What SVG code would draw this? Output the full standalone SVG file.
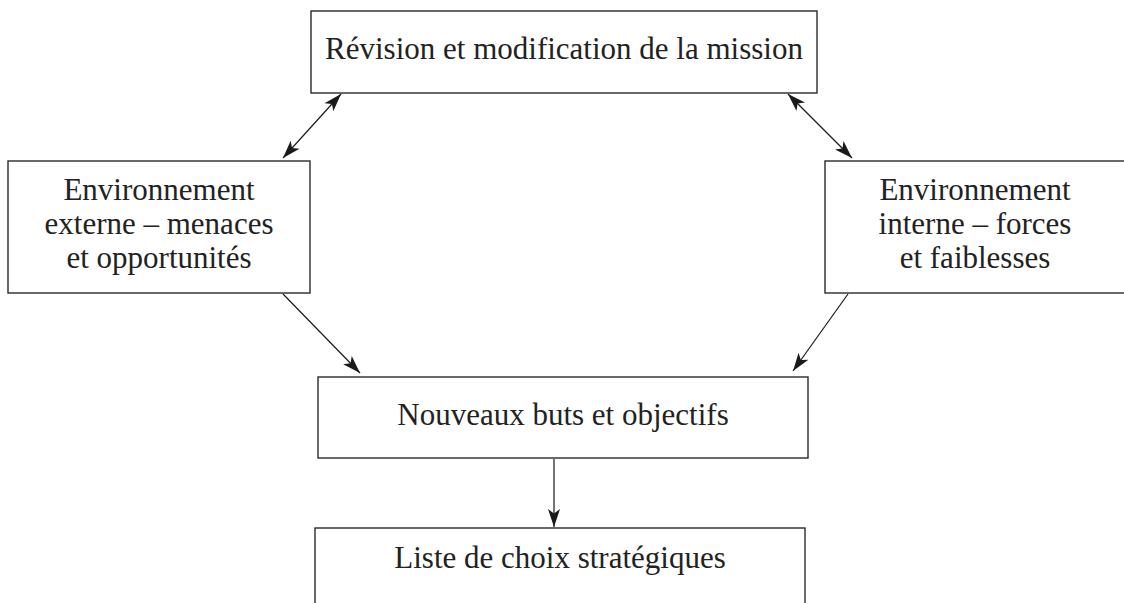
<svg xmlns="http://www.w3.org/2000/svg" width="1124" height="603" viewBox="0 0 1124 603">
<style>
.box{fill:#fff;stroke:#2a2a2a;stroke-width:1.4}
.t{font-family:"Liberation Serif","Times New Roman",serif;font-size:31px;fill:#222;text-anchor:middle}
.c{stroke:#1a1a1a;stroke-width:1.2;fill:none}
</style>
<defs>
<marker id="ah" markerUnits="userSpaceOnUse" viewBox="-1 -7 21 14" markerWidth="21" markerHeight="14" refX="18" refY="0" orient="auto-start-reverse">
<path d="M0,-6 L18,0 L0,6 L4.5,0 z" fill="#1a1a1a"/>
</marker>
</defs>
<rect width="1124" height="603" fill="#fff"/>
<g id="n-mission">
<rect class="box" x="311" y="11" width="506" height="82"/>
<text class="t" x="564" y="59">Révision et modification de la mission</text>
</g>
<g id="n-externe">
<rect class="box" x="8" y="161" width="302" height="132"/>
<text class="t" x="159" y="200">Environnement</text>
<text class="t" x="159" y="234">externe – menaces</text>
<text class="t" x="159" y="268">et opportunités</text>
</g>
<g id="n-interne">
<rect class="box" x="825" y="161" width="300" height="132"/>
<text class="t" x="975" y="200">Environnement</text>
<text class="t" x="975" y="234">interne – forces</text>
<text class="t" x="975" y="268">et faiblesses</text>
</g>
<g id="n-buts">
<rect class="box" x="318" y="377" width="490" height="81"/>
<text class="t" x="563" y="425">Nouveaux buts et objectifs</text>
</g>
<g id="n-choix">
<rect class="box" x="315" y="528" width="490" height="90"/>
<text class="t" x="560" y="568">Liste de choix stratégiques</text>
</g>
<g id="connectors">
<line class="c" x1="341" y1="94" x2="283" y2="158" marker-start="url(#ah)" marker-end="url(#ah)"/>
<line class="c" x1="788" y1="94" x2="852" y2="158" marker-start="url(#ah)" marker-end="url(#ah)"/>
<line class="c" x1="283" y1="294" x2="360" y2="373" marker-end="url(#ah)"/>
<line class="c" x1="848" y1="294" x2="793" y2="371" marker-end="url(#ah)"/>
<line class="c" x1="554" y1="459" x2="554" y2="527" marker-end="url(#ah)"/>
</g>
</svg>
